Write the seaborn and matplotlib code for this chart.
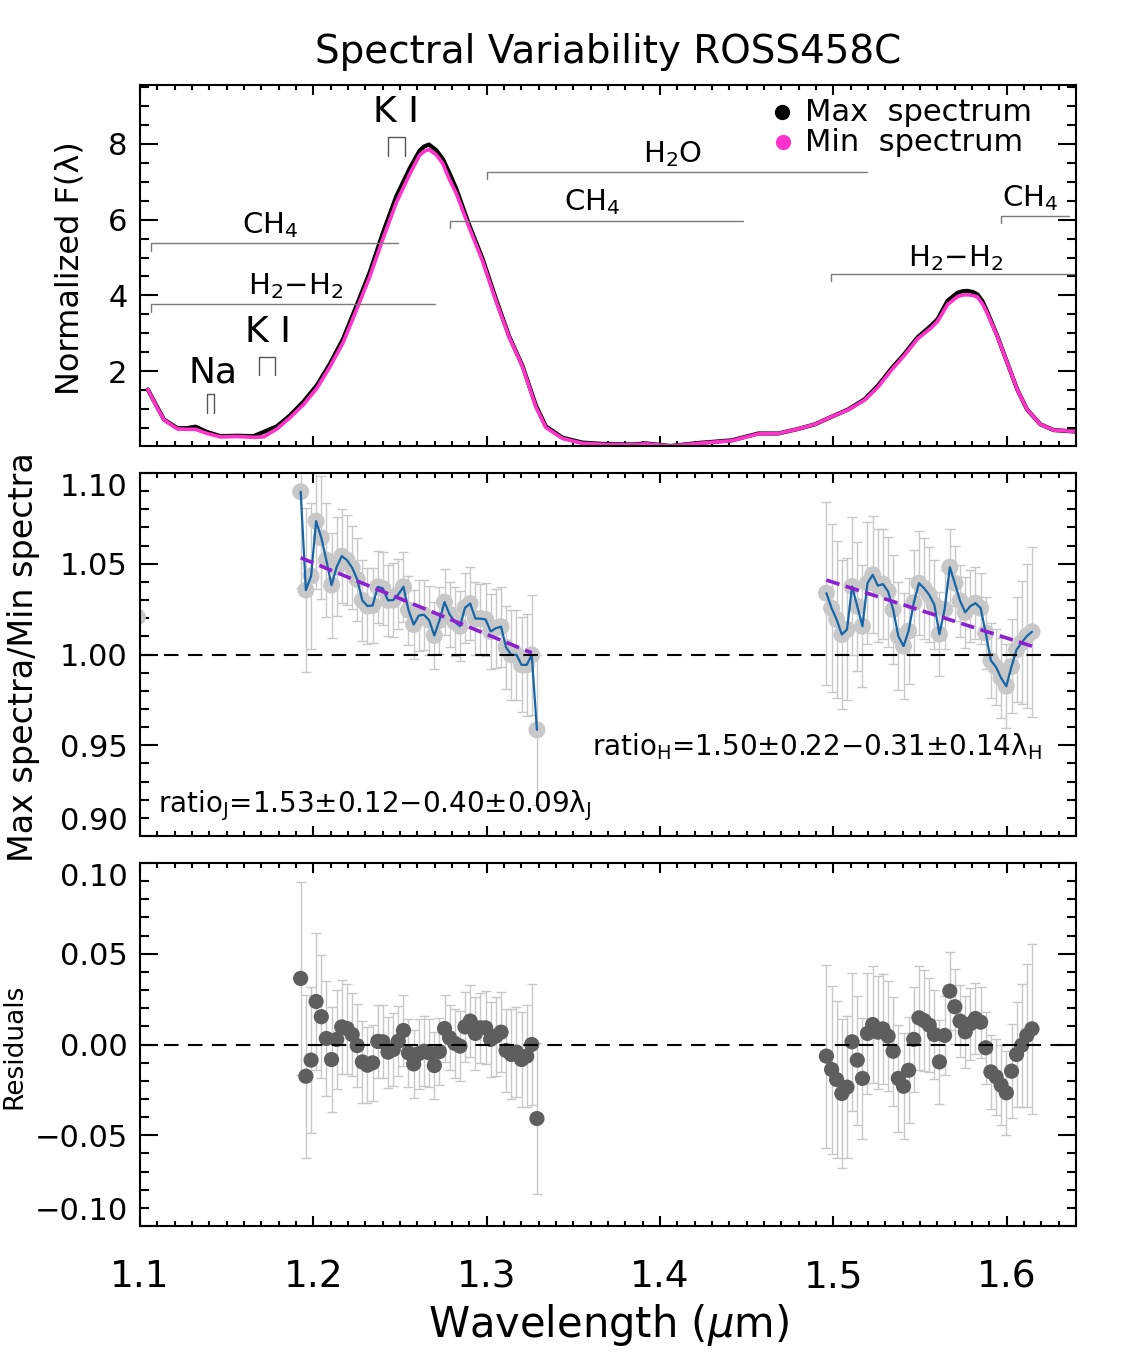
import numpy as np
import matplotlib
matplotlib.use("Agg")
import matplotlib.pyplot as plt
import seaborn as sns
from matplotlib.ticker import MultipleLocator, FixedLocator, FuncFormatter

# ---------------- data ----------------
spec_wl = [1.1045, 1.1100, 1.1138, 1.1215, 1.1270, 1.1320, 1.1387, 1.1464, 1.1560, 1.1655,
           1.1713, 1.1790, 1.1866, 1.1943, 1.2020, 1.2096, 1.2172, 1.2249, 1.2326, 1.2402,
           1.2479, 1.2556, 1.2613, 1.2640, 1.2667, 1.2709, 1.2747, 1.2786, 1.2824, 1.2900,
           1.2977, 1.3054, 1.3130, 1.3207, 1.3284, 1.3341, 1.3437, 1.3552, 1.3686, 1.3850,
           1.3916, 1.4060, 1.4222, 1.4414, 1.4567, 1.4682, 1.4797, 1.4893, 1.4989, 1.5084,
           1.5180, 1.5257, 1.5333, 1.5410, 1.5487, 1.5563, 1.5602, 1.5659, 1.5716, 1.5745,
           1.5774, 1.5805, 1.5831, 1.5860, 1.5889, 1.5946, 1.6004, 1.6061, 1.6118, 1.6195,
           1.6272, 1.6368, 1.6400]
spec_max = [1.52, 1.05, 0.73, 0.50, 0.50, 0.54, 0.40, 0.29, 0.30, 0.29,
            0.40, 0.55, 0.84, 1.20, 1.63, 2.20, 2.86, 3.73, 4.62, 5.66,
            6.62, 7.35, 7.82, 7.93, 7.98, 7.83, 7.60, 7.22, 6.82, 5.85,
            4.96, 3.90, 2.92, 2.14, 1.10, 0.55, 0.25, 0.12, 0.08, 0.07,
            0.10, 0.03, 0.11, 0.18, 0.36, 0.36, 0.48, 0.60, 0.80, 0.99,
            1.26, 1.62, 2.06, 2.46, 2.90, 3.20, 3.38, 3.86, 4.07, 4.11,
            4.12, 4.09, 4.03, 3.85, 3.56, 2.93, 2.22, 1.52, 0.99, 0.60,
            0.45, 0.42, 0.41]
spec_min = [1.52, 1.03, 0.72, 0.48, 0.47, 0.47, 0.36, 0.27, 0.28, 0.26,
            0.27, 0.48, 0.78, 1.12, 1.55, 2.12, 2.76, 3.62, 4.50, 5.50,
            6.45, 7.20, 7.70, 7.80, 7.85, 7.71, 7.48, 7.05, 6.70, 5.78,
            4.90, 3.85, 2.90, 2.12, 1.06, 0.52, 0.23, 0.10, 0.07, 0.06,
            0.09, 0.03, 0.10, 0.17, 0.35, 0.36, 0.48, 0.60, 0.80, 0.98,
            1.24, 1.58, 2.02, 2.42, 2.86, 3.14, 3.32, 3.76, 3.97, 4.01,
            4.02, 4.00, 3.96, 3.78, 3.52, 2.92, 2.22, 1.52, 0.99, 0.60,
            0.45, 0.42, 0.41]

wl_J = [1.1927, 1.1957, 1.1987, 1.2016, 1.2046, 1.2075, 1.2105, 1.2135, 1.2164, 1.2194,
        1.2224, 1.2253, 1.2283, 1.2312, 1.2342, 1.2372, 1.2401, 1.2431, 1.2461, 1.2490,
        1.2520, 1.2549, 1.2579, 1.2609, 1.2638, 1.2668, 1.2698, 1.2727, 1.2757, 1.2786,
        1.2816, 1.2846, 1.2875, 1.2905, 1.2935, 1.2964, 1.2994, 1.3023, 1.3053, 1.3083,
        1.3112, 1.3142, 1.3172, 1.3201, 1.3231, 1.3260, 1.3290]
ratio_J = [1.0897, 1.0355, 1.0432, 1.0735, 1.0643, 1.0520, 1.0382, 1.0483, 1.0542, 1.0520,
           1.0478, 1.0414, 1.0298, 1.0267, 1.0270, 1.0373, 1.0364, 1.0298, 1.0300, 1.0331,
           1.0373, 1.0244, 1.0165, 1.0215, 1.0219, 1.0189, 1.0105, 1.0187, 1.0289, 1.0221,
           1.0180, 1.0156, 1.0257, 1.0281, 1.0198, 1.0198, 1.0193, 1.0127, 1.0145, 1.0153,
           1.0039, 0.9998, 0.9998, 0.9943, 0.9943, 0.9998, 0.9585]
resid_J = [0.0364, -0.0175, -0.0086, 0.0237, 0.0153, 0.0033, -0.0083, 0.0028, 0.0097, 0.0088,
           0.0055, -0.0006, -0.0096, -0.0114, -0.0101, 0.0017, 0.0015, -0.0042, -0.0028, 0.0018,
           0.0077, -0.0046, -0.0107, -0.0050, -0.0037, -0.0046, -0.0116, -0.0039, 0.0088, 0.0037,
           0.0006, -0.0009, 0.0097, 0.0129, 0.0061, 0.0092, 0.0092, 0.0028, 0.0046, 0.0068,
           -0.0033, -0.0055, -0.0042, -0.0083, -0.0064, 0.0000, -0.0408]
err_J = [0.0533, 0.0450, 0.0404, 0.0375, 0.0338, 0.0316, 0.0289, 0.0272, 0.0257, 0.0248,
         0.0230, 0.0228, 0.0224, 0.0210, 0.0208, 0.0200, 0.0202, 0.0195, 0.0202, 0.0193,
         0.0193, 0.0189, 0.0189, 0.0193, 0.0193, 0.0189, 0.0187, 0.0186, 0.0184, 0.0180,
         0.0191, 0.0193, 0.0193, 0.0199, 0.0202, 0.0193, 0.0202, 0.0206, 0.0217, 0.0221,
         0.0230, 0.0248, 0.0248, 0.0261, 0.0281, 0.0331, 0.0415]

wl_H = [1.4960, 1.4990, 1.5019, 1.5049, 1.5079, 1.5108, 1.5138, 1.5168, 1.5197, 1.5227,
        1.5257, 1.5286, 1.5316, 1.5345, 1.5375, 1.5405, 1.5434, 1.5464, 1.5494, 1.5523,
        1.5553, 1.5583, 1.5612, 1.5642, 1.5672, 1.5701, 1.5731, 1.5761, 1.5790, 1.5820,
        1.5850, 1.5879, 1.5909, 1.5939, 1.5968, 1.5998, 1.6028, 1.6057, 1.6087, 1.6116,
        1.6146]
ratio_H = [1.0338, 1.0255, 1.0193, 1.0110, 1.0138, 1.0375, 1.0266, 1.0156, 1.0393, 1.0439,
           1.0379, 1.0388, 1.0347, 1.0248, 1.0101, 1.0046, 1.0129, 1.0285, 1.0393, 1.0366,
           1.0329, 1.0274, 1.0112, 1.0248, 1.0481, 1.0393, 1.0296, 1.0232, 1.0266, 1.0283,
           1.0255, 1.0119, 0.9967, 0.9930, 0.9870, 0.9825, 0.9934, 1.0026, 1.0066, 1.0101,
           1.0125]
resid_H = [-0.0064, -0.0138, -0.0193, -0.0270, -0.0235, 0.0015, -0.0086, -0.0187, 0.0061, 0.0110,
           0.0068, 0.0086, 0.0046, -0.0037, -0.0187, -0.0230, -0.0142, 0.0028, 0.0147, 0.0132,
           0.0107, 0.0055, -0.0096, 0.0050, 0.0294, 0.0208, 0.0129, 0.0070, 0.0114, 0.0143,
           0.0123, -0.0018, -0.0151, -0.0178, -0.0224, -0.0266, -0.0147, -0.0055, -0.0004, 0.0050,
           0.0086]
err_H = [0.0504, 0.0463, 0.0434, 0.0412, 0.0391, 0.0380, 0.0355, 0.0335, 0.0335, 0.0322,
         0.0312, 0.0301, 0.0303, 0.0301, 0.0296, 0.0292, 0.0292, 0.0290, 0.0287, 0.0278,
         0.0261, 0.0246, 0.0230, 0.0219, 0.0213, 0.0206, 0.0197, 0.0197, 0.0197, 0.0197,
         0.0195, 0.0199, 0.0206, 0.0210, 0.0221, 0.0232, 0.0259, 0.0289, 0.0338, 0.0395,
         0.0470]

fit_J_wl = [1.1927, 1.3260]
fit_J = [1.0533, 1.0009]
fit_H_wl = [1.4960, 1.6146]
fit_H = [1.0410, 1.0046]

edge_wl = [1.0985]
edge_ratio = [1.0207]

# molecular bands: label, x0, x1, y, label x, label y
bands = [("CH$_4$", 1.1065, 1.2489, 5.38, 1.1752, 5.47),
         ("H$_2$\u2212H$_2$", 1.1065, 1.2700, 3.77, 1.1898, 3.86),
         ("H$_2$O", 1.3000, 1.5195, 7.26, 1.4072, 7.33),
         ("CH$_4$", 1.2790, 1.4480, 5.97, 1.3608, 6.06),
         ("H$_2$\u2212H$_2$", 1.4989, 1.6400, 4.57, 1.5706, 4.60),
         ("CH$_4$", 1.5970, 1.6360, 6.10, 1.6136, 6.17)]
# atomic lines: label, x0, x1, top, bottom, label x, label y
atoms = [("K I", 1.2431, 1.2527, 8.18, 7.68, 1.2479, 8.38),
         ("K I", 1.1685, 1.1780, 2.39, 1.90, 1.1737, 2.58),
         ("Na", 1.1387, 1.1425, 1.39, 0.90, 1.1424, 1.52)]

ratio_J_text = "ratio$_\\mathrm{J}$=1.53\u00b10.12\u22120.40\u00b10.09\u03bb$_\\mathrm{J}$"
ratio_H_text = "ratio$_\\mathrm{H}$=1.50\u00b10.22\u22120.31\u00b10.14\u03bb$_\\mathrm{H}$"

# ---------------- style ----------------
sns.set_style("ticks", {"xtick.direction": "in", "ytick.direction": "in"})
plt.rcParams['font.family'] = ['DejaVu Sans']
plt.rcParams['mathtext.fontset'] = 'dejavusans'
plt.rcParams['axes.unicode_minus'] = True
plt.rcParams['text.color'] = 'black'
plt.rcParams['axes.labelcolor'] = 'black'
plt.rcParams['xtick.color'] = 'black'
plt.rcParams['ytick.color'] = 'black'

W, H = 1121, 1357
fig = plt.figure(figsize=(W / 100, H / 100), dpi=100)


def rect(l, t, r, b):
    return [l / W, 1 - b / H, (r - l) / W, (b - t) / H]


def fmt2(v, pos):
    return f"{v:.2f}".replace("-", "\u2212")


ax1 = fig.add_axes(rect(140, 85, 1076, 446))
ax2 = fig.add_axes(rect(140, 473, 1076, 836))
ax3 = fig.add_axes(rect(140, 863, 1076, 1226))

MAG = '#ff33cc'
LGRAY = '#c8c8c8'
DGRAY = '#5e5e5e'
BLUE = '#1565a8'
PURPLE = '#8c1fd0'

# ---- top panel ----
sns.lineplot(x=spec_wl, y=spec_max, ax=ax1, color='black', lw=3, estimator=None, sort=False)
sns.lineplot(x=spec_wl, y=spec_min, ax=ax1, color=MAG, lw=2.6, estimator=None, sort=False)
for lab, x0, x1, y, lx, ly in bands:
    ax1.plot([x0, x0, x1], [y - 0.2, y, y], color='#7a7a7a', lw=1.0, clip_on=False)
    ax1.text(lx, ly, lab, ha='center', va='bottom', fontsize=21)
for lab, x0, x1, top, bot, lx, ly in atoms:
    ax1.plot([x0, x0, x1, x1], [bot, top, top, bot], color='#555555', lw=1.0)
    ax1.text(lx, ly, lab, ha='center', va='bottom', fontsize=26)

ax1.plot([0.686], [0.925], 'o', color='black', ms=10, transform=ax1.transAxes)
ax1.plot([0.687], [0.842], 'o', color=MAG, ms=10, transform=ax1.transAxes)
ax1.text(0.711, 0.925, "Max  spectrum", transform=ax1.transAxes, fontsize=22, va='center')
ax1.text(0.711, 0.842, "Min  spectrum", transform=ax1.transAxes, fontsize=22, va='center')

ax1.set_xlim(1.1, 1.64)
ax1.set_ylim(0.03, 9.55)
ax1.yaxis.set_major_locator(FixedLocator([2, 4, 6, 8]))
ax1.yaxis.set_minor_locator(MultipleLocator(0.5))

# ---- middle panel ----
for wl, r, e in [(wl_J, ratio_J, err_J), (wl_H, ratio_H, err_H)]:
    ax2.errorbar(wl, r, yerr=e, fmt='none', ecolor=LGRAY, elinewidth=1.0, capsize=3.5,
                 capthick=1.0, zorder=1)
    sns.scatterplot(x=wl, y=r, ax=ax2, color=LGRAY, s=150, edgecolor='none', zorder=2)
    sns.lineplot(x=wl, y=r, ax=ax2, color=BLUE, lw=1.6, estimator=None, sort=False, zorder=3)
sns.scatterplot(x=edge_wl, y=edge_ratio, ax=ax2, color=LGRAY, s=150, edgecolor='none', zorder=2)
ax2.plot(fit_J_wl, fit_J, color=PURPLE, lw=2.6, ls=(0, (3.8, 1.8)), zorder=4)
ax2.plot(fit_H_wl, fit_H, color=PURPLE, lw=2.6, ls=(0, (3.8, 1.8)), zorder=4)
ax2.axhline(1.0, color='black', lw=1.5, ls=(0, (7, 4.5)), zorder=5)
ax2.text(1.1105, 0.9165, ratio_J_text, fontsize=20, va='center', ha='left')
ax2.text(1.3605, 0.9494, ratio_H_text, fontsize=20, va='center', ha='left')
ax2.set_xlim(1.1, 1.64)
ax2.set_ylim(0.90, 1.10)
ax2.yaxis.set_major_locator(FixedLocator([0.90, 0.95, 1.00, 1.05, 1.10]))
ax2.yaxis.set_major_formatter(FuncFormatter(fmt2))
ax2.yaxis.set_minor_locator(MultipleLocator(0.01))

# ---- bottom panel ----
for wl, r, e in [(wl_J, resid_J, err_J), (wl_H, resid_H, err_H)]:
    ax3.errorbar(wl, r, yerr=e, fmt='none', ecolor=LGRAY, elinewidth=1.0, capsize=3.5,
                 capthick=1.0, zorder=1)
    sns.scatterplot(x=wl, y=r, ax=ax3, color=DGRAY, s=120, edgecolor='none', zorder=2)
ax3.axhline(0.0, color='black', lw=1.5, ls=(0, (7, 4.5)), zorder=5)
ax3.set_xlim(1.1, 1.64)
ax3.set_ylim(-0.10, 0.10)
ax3.yaxis.set_major_locator(FixedLocator([-0.10, -0.05, 0.00, 0.05, 0.10]))
ax3.yaxis.set_major_formatter(FuncFormatter(fmt2))
ax3.yaxis.set_minor_locator(MultipleLocator(0.01))

for ax in (ax1, ax2, ax3):
    ax.xaxis.set_major_locator(FixedLocator([1.1, 1.2, 1.3, 1.4, 1.5, 1.6]))
    ax.xaxis.set_minor_locator(MultipleLocator(0.01))
    ax.tick_params(which='both', direction='in', top=True, right=True, width=1.5,
                   color='black', labelcolor='black')
    ax.tick_params(axis='x', which='major', length=7)
    ax.tick_params(axis='x', which='minor', length=3.5)
    ax.tick_params(axis='y', which='major', length=13, labelsize=22, pad=9)
    ax.tick_params(axis='y', which='minor', length=6.5)
    for sp in ax.spines.values():
        sp.set_linewidth(1.5)
        sp.set_color('black')
        sp.set_visible(True)
    ax.set_xlabel('')
    ax.set_ylabel('')
ax1.tick_params(axis='x', labelbottom=False)
ax2.tick_params(axis='x', labelbottom=False)
ax3.tick_params(axis='x', which='major', labelsize=27, pad=24)

# nudge edge labels inward like the original
fig.canvas.draw()
for ax in (ax2, ax3):
    labs = ax.get_yticklabels()
    labs[0].set_verticalalignment('bottom')
    labs[-1].set_verticalalignment('top')

fig.text(608 / W, 1 - 52 / H, "Spectral Variability ROSS458C", ha='center', va='center',
         fontsize=28)
fig.text(70 / W, 1 - 268 / H, "Normalized F(\u03bb)", rotation=90, ha='center', va='center',
         fontsize=23)
fig.text(24 / W, 1 - 657 / H, "Max spectra/Min spectra", rotation=90, ha='center',
         va='center', fontsize=24)
fig.text(14 / W, 1 - 1046 / H, "Residuals", rotation=90, ha='center', va='center',
         fontsize=19)
fig.text(608 / W, 1 - 1325 / H, "Wavelength ($\\mu$m)", ha='center', va='center',
         fontsize=30)

fig.savefig("out.png", dpi=100)
